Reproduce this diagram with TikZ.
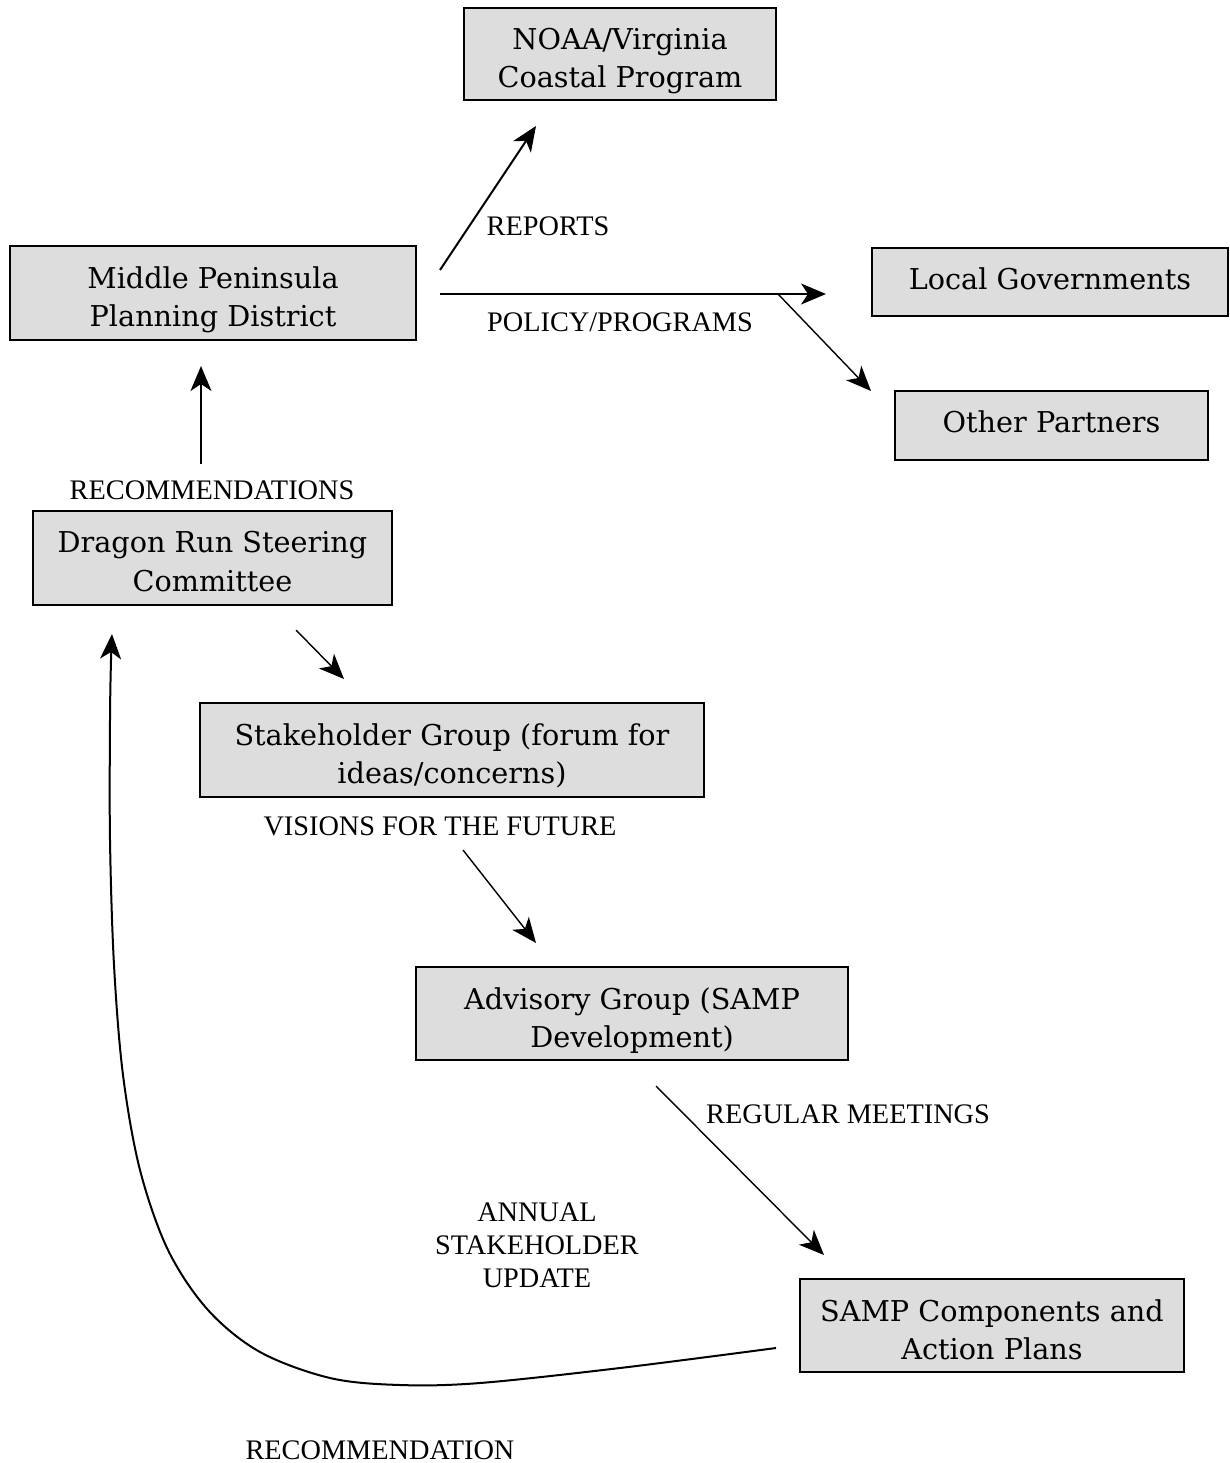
\documentclass[tikz,border=0pt]{standalone}
\usepackage{fontspec}
\setmainfont{Liberation Serif}
\newfontfamily\boxfnt{DejaVu Serif}
\newfontfamily\lblfnt{Liberation Serif}
\usetikzlibrary{arrows.meta}
\definecolor{boxgray}{HTML}{DDDDDD}
\tikzset{
  sbox/.style={draw=black, fill=boxgray, line width=2pt, inner sep=0pt},
  btext/.style={inner sep=0pt, align=center, anchor=north,
    font=\boxfnt\fontsize{28.7}{38.5}\selectfont},
  lbl/.style={inner sep=0pt, align=center, font=\lblfnt\fontsize{28.3}{33}\selectfont},
  conn/.style={line width=2pt, -{Stealth[length=25pt,width=21pt,inset=7pt]}},
  thinconn/.style={line width=1.4pt, -{Stealth[length=25pt,width=21pt,inset=7pt]}}
}
\begin{document}
\begin{tikzpicture}[x=1pt,y=-1pt]
\useasboundingbox (0,0) rectangle (1229,1463);
% boxes
\node[sbox, minimum width=312pt, minimum height=92pt] (noaa) at (620,54) {};
\node[sbox, minimum width=406pt, minimum height=94pt] (mppd) at (213,293) {};
\node[sbox, minimum width=356pt, minimum height=68pt] (local) at (1050,282) {};
\node[sbox, minimum width=313pt, minimum height=69pt] (other) at (1051.5,425.5) {};
\node[sbox, minimum width=359pt, minimum height=94pt] (dragon) at (212.5,558) {};
\node[sbox, minimum width=504pt, minimum height=94pt] (stake) at (452,750) {};
\node[sbox, minimum width=432pt, minimum height=93pt] (adv) at (632,1013.5) {};
\node[sbox, minimum width=384pt, minimum height=93pt] (samp) at (992,1325.5) {};
% box texts
\node[btext] (noaa-t) at ([yshift=-21pt]noaa.north) {NOAA/Virginia\\Coastal Program};
\node[btext] (mppd-t) at ([yshift=-21pt]mppd.north) {Middle Peninsula\\Planning District};
\node[btext] (local-t) at ([yshift=-20pt]local.north) {Local Governments};
\node[btext] (other-t) at ([yshift=-20pt]other.north) {Other Partners};
\node[btext] (dragon-t) at ([yshift=-21pt]dragon.north) {Dragon Run Steering\\Committee};
\node[btext] (stake-t) at ([yshift=-21pt]stake.north) {Stakeholder Group (forum for\\ideas/concerns)};
\node[btext] (adv-t) at ([yshift=-21pt]adv.north) {Advisory Group (SAMP\\Development)};
\node[btext] (samp-t) at ([yshift=-21pt]samp.north) {SAMP Components and\\Action Plans};
% labels
\node[lbl] (lrep) at (548,226) {REPORTS};
\node[lbl] (lpol) at (620,322) {POLICY/PROGRAMS};
\node[lbl] (lrec) at (212,490) {RECOMMENDATIONS};
\node[lbl] (lvis) at (440,826) {VISIONS FOR THE FUTURE};
\node[lbl] (lreg) at (848,1114) {REGULAR MEETINGS};
\node[lbl] (lann) at (537,1245) {ANNUAL\\STAKEHOLDER\\UPDATE};
\node[lbl] (lrecb) at (380,1450) {RECOMMENDATION};
% connector endpoints
\coordinate (r1) at (440,270); \coordinate (r2) at (536,126);
\coordinate (p1) at (440,294); \coordinate (p2) at (826,294);
\coordinate (b1) at (778,294); \coordinate (b2) at (871,391);
\coordinate (u1) at (201,464); \coordinate (u2) at (201,366);
\coordinate (d1) at (296,630); \coordinate (d2) at (344,679);
\coordinate (v1) at (463,850); \coordinate (v2) at (536,943);
\coordinate (m1) at (656,1086); \coordinate (m2) at (824,1255);
\draw[conn] (r1) -- (r2);
\draw[conn] (p1) -- (p2);
\draw[thinconn] (b1) -- (b2);
\draw[conn] (u1) -- (u2);
\draw[thinconn] (d1) -- (d2);
\draw[thinconn] (v1) -- (v2);
\draw[thinconn] (m1) -- (m2);
% return curve
\coordinate (c0) at (776,1348);
\coordinate (c9) at (112,634);
\draw[conn] plot[smooth, tension=0.55] coordinates {(c0) (620,1368) (480,1383) (400,1385) (330,1378) (260,1352) (208,1310) (168,1250) (140,1170) (123,1075) (114,965) (110,840) (110,720) (111,660) (c9)};
\end{tikzpicture}
\end{document}
